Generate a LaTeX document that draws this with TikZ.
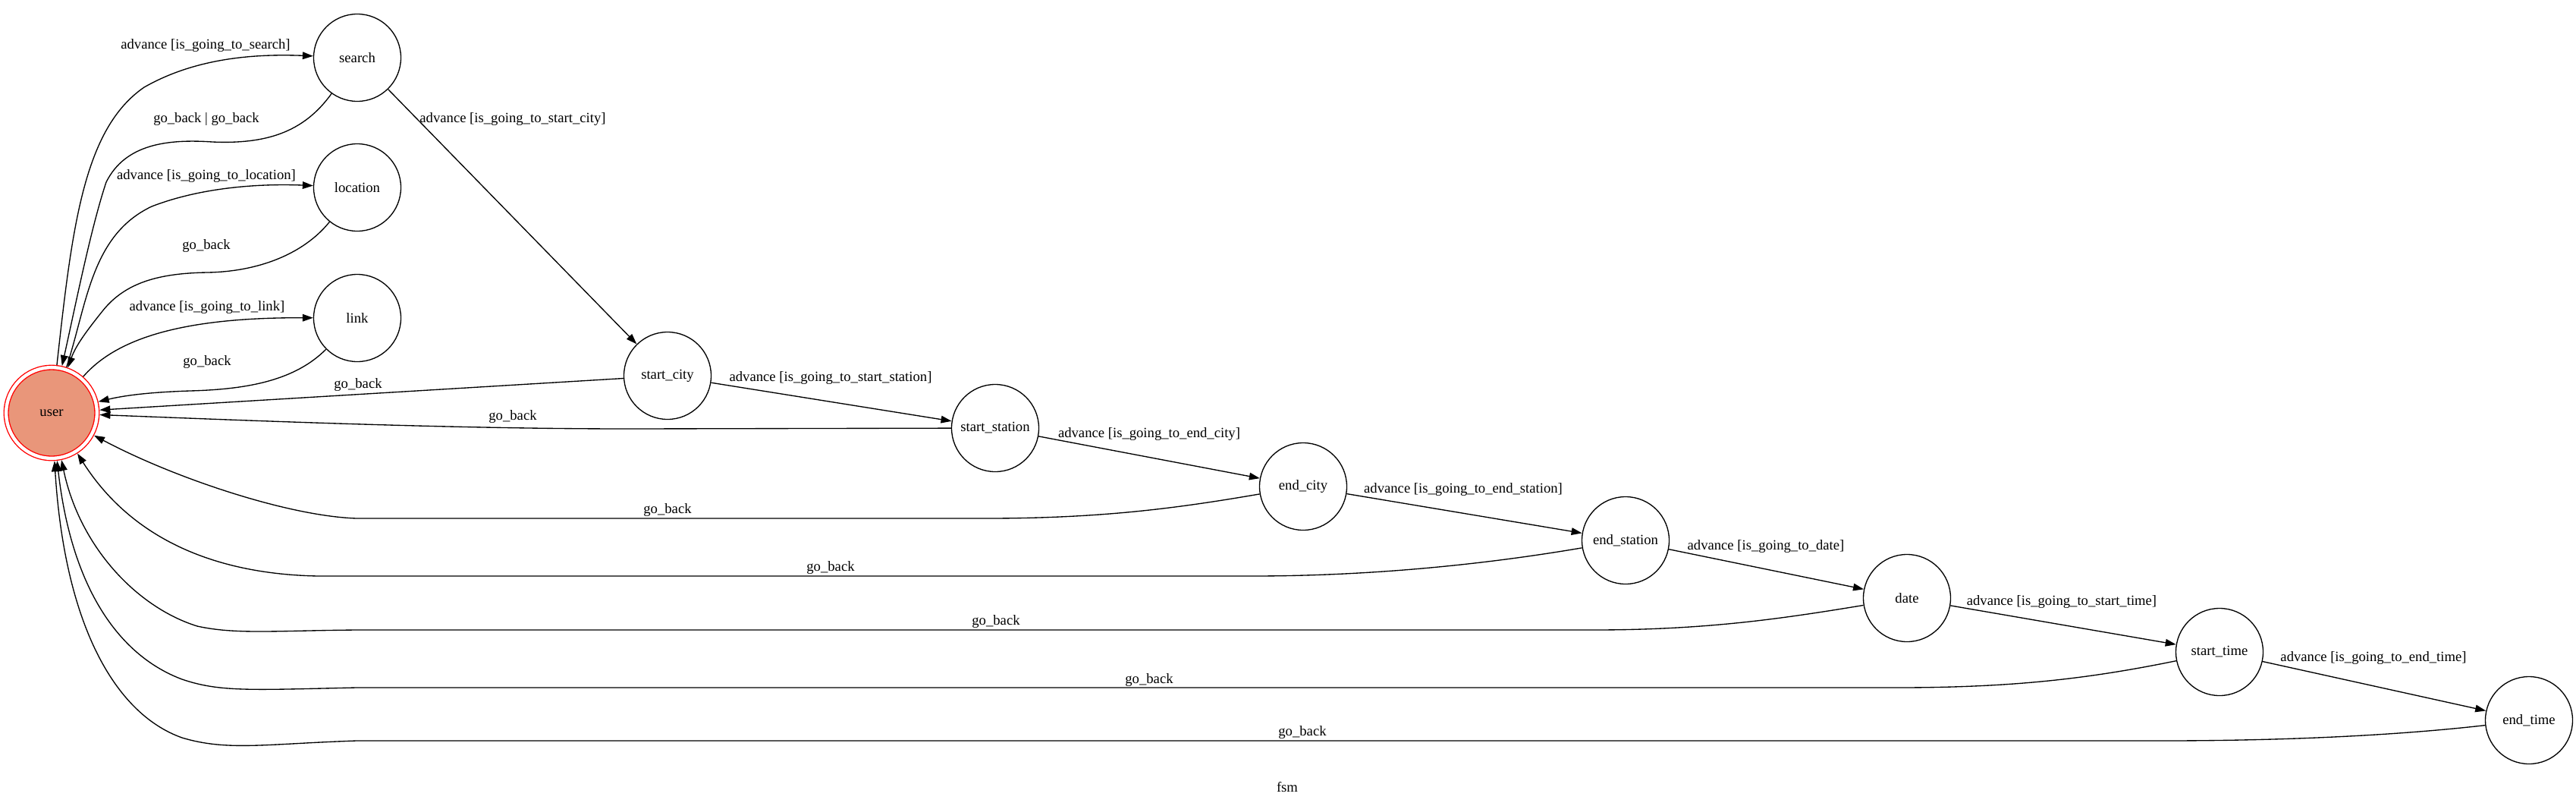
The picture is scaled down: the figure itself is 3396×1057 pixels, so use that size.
\documentclass[tikz,border=0pt]{standalone}
\usepackage{fontspec}
\setmainfont{Liberation Serif}
\usepackage{tikz}
\usetikzlibrary{arrows.meta}

\definecolor{usersalmon}{RGB}{233,150,122}
\tikzset{
	fsmstate/.style={circle,draw,line width=0.67pt,minimum size=57.5pt,inner sep=0pt},
	trans/.style={line width=0.67pt,-{Triangle[length=7pt,width=4.8pt]}},
	lbl/.style={inner sep=0pt}
}

\begin{document}
\begin{tikzpicture}[x=0.5pt,y=-0.5pt,font=\fontsize{9.33}{11}\selectfont]
	\useasboundingbox (0,0) rectangle (3396,1057);

	\node[fsmstate,draw=red,double=white,double distance=2.2pt,fill=usersalmon,minimum size=59.85pt,outer sep=1.8pt] (user) at (68,544) {user};
	\node[fsmstate] (search) at (471,76) {search};
	\node[fsmstate] (location) at (471,247) {location};
	\node[fsmstate] (link) at (471,419) {link};
	\node[fsmstate] (start_city) at (880,495) {start\_city};
	\node[fsmstate] (start_station) at (1312,564) {start\_station};
	\node[fsmstate] (end_city) at (1718,641) {end\_city};
	\node[fsmstate] (end_station) at (2143,712) {end\_station};
	\node[fsmstate] (date) at (2514,788) {date};
	\node[fsmstate] (start_time) at (2926,859) {start\_time};
	\node[fsmstate] (end_time) at (3334,949) {end\_time};

	% user <-> search, location, link
	\draw[trans] (user) .. controls (95,300) and (110,170) .. (190,115) .. controls (260,75) and (340,71) .. (search)
		node[lbl] (a_search) at (271,60) {advance [is\_going\_to\_search]};
	\draw[trans] (search) .. controls (400,175) and (350,190) .. (280,187) .. controls (220,183) and (165,190) .. (140,240) .. controls (120,300) and (100,400) .. (user)
		node[lbl] (b_search) at (272,157) {go\_back | go\_back};
	\draw[trans] (user) .. controls (115,400) and (120,310) .. (200,272) .. controls (270,245) and (350,242) .. (location)
		node[lbl] (a_location) at (272,232) {advance [is\_going\_to\_location]};
	\draw[trans] (location) .. controls (400,335) and (340,358) .. (273,359) .. controls (210,360) and (165,372) .. (135,410) .. controls (115,435) and (100,455) .. (user)
		node[lbl] (b_location) at (272,324) {go\_back};
	\draw[trans] (user) .. controls (150,450) and (230,418) .. (link)
		node[lbl] (a_link) at (273,405) {advance [is\_going\_to\_link]};
	\draw[trans] (link) .. controls (390,500) and (330,513) .. (250,515) .. controls (190,517) and (160,522) .. (user)
		node[lbl] (b_link) at (273,477) {go\_back};

	% the chain
	\draw[trans] (search) -- (start_city) node[lbl] (a_start_city) at (676,157) {advance [is\_going\_to\_start\_city]};
	\draw[trans] (start_city) -- (start_station) node[lbl] (a_start_station) at (1095,498) {advance [is\_going\_to\_start\_station]};
	\draw[trans] (start_station) -- (end_city) node[lbl] (a_end_city) at (1515,572) {advance [is\_going\_to\_end\_city]};
	\draw[trans] (end_city) -- (end_station) node[lbl] (a_end_station) at (1929,645) {advance [is\_going\_to\_end\_station]};
	\draw[trans] (end_station) -- (date) node[lbl] (a_date) at (2328,720) {advance [is\_going\_to\_date]};
	\draw[trans] (date) -- (start_time) node[lbl] (a_start_time) at (2718,793) {advance [is\_going\_to\_start\_time]};
	\draw[trans] (start_time) -- (end_time) node[lbl] (a_end_time) at (3129,867) {advance [is\_going\_to\_end\_time]};

	% go_back to user
	\draw[trans] (start_city) -- (user) node[lbl] (b_start_city) at (472,507) {go\_back};
	\draw[trans] (start_station) -- (830,565) .. controls (600,565) and (350,555) .. (user)
		node[lbl] (b_start_station) at (676,549) {go\_back};
	\draw[trans] (end_city) .. controls (1550,670) and (1450,683) .. (1300,683) -- (470,683) .. controls (380,680) and (230,630) .. (user)
		node[lbl] (b_end_city) at (880,672) {go\_back};
	\draw[trans] (end_station) .. controls (1950,745) and (1800,759) .. (1650,759) -- (420,759) .. controls (300,757) and (180,720) .. (user)
		node[lbl] (b_end_station) at (1095,748) {go\_back};
	\draw[trans] (date) .. controls (2350,815) and (2250,830) .. (2100,830) -- (470,830) .. controls (360,831) and (310,836) .. (260,825) .. controls (180,800) and (105,720) .. (user)
		node[lbl] (b_date) at (1313,819) {go\_back};
	\draw[trans] (start_time) .. controls (2750,895) and (2650,906) .. (2500,906) -- (470,906) .. controls (330,909) and (290,912) .. (240,895) .. controls (160,865) and (95,780) .. (user)
		node[lbl] (b_start_time) at (1515,896) {go\_back};
	\draw[trans] (end_time) .. controls (3150,970) and (3000,976) .. (2850,976) -- (470,976) .. controls (350,980) and (300,990) .. (240,972) .. controls (150,940) and (85,820) .. (user)
		node[lbl] (b_end_time) at (1717,965) {go\_back};

	\node (caption) at (1697,1037) {fsm};
\end{tikzpicture}
\end{document}
